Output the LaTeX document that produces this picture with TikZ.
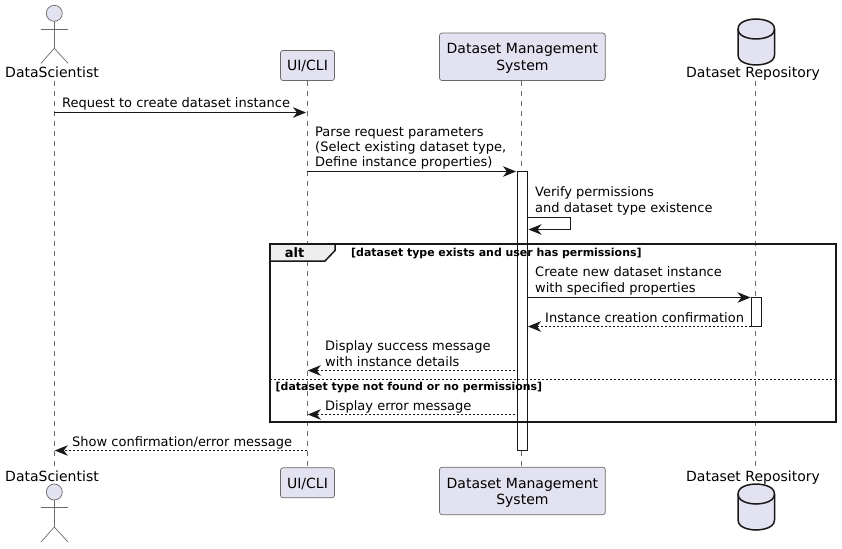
\documentclass[tikz,border=0pt]{standalone}
\usepackage{fontspec}
\setmainfont{DejaVu Sans}
\usetikzlibrary{arrows.meta}
\definecolor{pfill}{HTML}{E2E2F0}
\definecolor{pline}{HTML}{181818}
\definecolor{thinline}{HTML}{6A6A6A}
\definecolor{tabfill}{HTML}{EEEEEE}
\newcommand{\lowertext}[2]{\raisebox{-#1}[\height][\depth]{#2}}
\tikzset{
  partbox/.style={draw=thinline,line width=0.7pt,fill=pfill,rounded corners=2.5pt,inner sep=0pt,minimum height=#1,align=center,font=\fontsize{14}{16.4}\selectfont},
  partlabel/.style={inner sep=0pt,anchor=base,font=\fontsize{14}{16.4}\selectfont},
  lifeline/.style={draw=thinline,line width=0.6pt,dash pattern=on 5pt off 5pt},
  activebar/.style={draw=pline,line width=1pt,fill=white},
  msg/.style={draw=pline,line width=1pt,-{Stealth[length=13pt,width=10.5pt,inset=4pt]}},
  retmsg/.style={msg,dash pattern=on 2pt off 2pt},
  msglabel/.style={inner sep=0pt,anchor=base west,align=left,font=\fontsize{13}{15.1}\selectfont},
  guard/.style={inner sep=0pt,anchor=base west,font=\bfseries\fontsize{10.95}{13}\selectfont},
  actorline/.style={draw=thinline,line width=0.7pt},
  dbshape/.style={draw=pline,line width=1.5pt,fill=pfill},
  framebox/.style={draw=pline,line width=1.5pt},
}
\begin{document}
\begin{tikzpicture}[x=1pt,y=-1pt]
\useasboundingbox (0,0) rectangle (842,548);
% participants
\node[partbox=30pt,minimum width=54pt] (uit) at (307.5,65.5) {UI/CLI};
\node[partbox=30pt,minimum width=54pt] (uib) at (307.5,482.8) {\lowertext{0.7pt}{UI/CLI}};
\node[partbox=47.5pt,minimum width=165.8pt] (dmt) at (522.4,56.8) {\lowertext{1.5pt}{Dataset Management}\\\lowertext{1.5pt}{System}};
\node[partbox=47.5pt,minimum width=165.8pt] (dmb) at (522.4,490.9) {\lowertext{2pt}{Dataset Management}\\\lowertext{2pt}{System}};
\node[partlabel] (dst) at (52,78) {DataScientist};
\node[partlabel] (dsb) at (52,481) {DataScientist};
\node[partlabel] (rpt) at (753,78) {Dataset Repository};
\node[partlabel] (rpb) at (753,481) {Dataset Repository};
% lifeline ends
\coordinate (l1t) at (54.3,81); \coordinate (l1b) at (54.3,467);
\coordinate (l2t) at (307.3,81); \coordinate (l2b) at (307.3,467);
\coordinate (l3t) at (521.3,81); \coordinate (l3b) at (521.3,467);
\coordinate (l4t) at (755.3,81); \coordinate (l4b) at (755.3,467);
\draw[lifeline] (l1t) -- (l1b);
\draw[lifeline] (l2t) -- (l2b);
\draw[lifeline] (l3t) -- (l3b);
\draw[lifeline] (l4t) -- (l4b);
% actors
\foreach \dy in {0,1}{
  \pgfmathsetmacro{\oy}{\dy*478.7}
  \begin{scope}[yshift=-\oy pt]
    \draw[actorline,fill=pfill] (54.3,13.3) circle (8pt);
    \draw[actorline] (54.3,21.3) -- (54.3,48.3);
    \draw[actorline] (41,29) -- (68,29);
    \draw[actorline] (41,63.3) -- (54.3,48.3) -- (68,63.3);
  \end{scope}
}
% databases
\foreach \dy in {0,1}{
  \pgfmathsetmacro{\oy}{\dy*465}
  \begin{scope}[yshift=-\oy pt]
    \draw[dbshape] (738,29) .. controls (738,19) and (756,19) .. (756,19)
      .. controls (756,19) and (774.5,19) .. (774.5,29) -- (774.5,55)
      .. controls (774.5,65) and (756,65) .. (756,65)
      .. controls (756,65) and (738,65) .. (738,55) -- cycle;
    \draw[dbshape,fill=none] (738,29) .. controls (738,39) and (756,39) .. (756,39)
      .. controls (756,39) and (774.5,39) .. (774.5,29);
  \end{scope}
}
% activations
\node[activebar,inner sep=0pt,minimum width=10.5pt,minimum height=279pt] (bar1) at (522.5,311) {};
\node[activebar,inner sep=0pt,minimum width=10.5pt,minimum height=29pt] (bar2) at (756.5,312) {};
% message ends
\coordinate (a1) at (54.3,112.5); \coordinate (b1) at (306,112.5);
\coordinate (a2) at (307.3,171.5); \coordinate (b2) at (516,171.5);
\coordinate (a3) at (528,217.5); \coordinate (c3a) at (570,217.5); \coordinate (c3b) at (570,229.5); \coordinate (b3) at (528.5,229.5);
\coordinate (a4) at (528,297.5); \coordinate (b4) at (750.5,297.5);
\coordinate (a5) at (751,326.5); \coordinate (b5) at (528,326.5);
\coordinate (a6) at (515,370.5); \coordinate (b6) at (307.8,370.5);
\coordinate (a7) at (515,414.5); \coordinate (b7) at (307.8,414.5);
\coordinate (a8) at (307.3,450.5); \coordinate (b8) at (54.8,450.5);
\draw[msg] (a1) -- (b1);
\draw[msg] (a2) -- (b2);
\draw[msg] (a3) -- (c3a) -- (c3b) -- (b3);
\draw[msg] (a4) -- (b4);
\draw[retmsg] (a5) -- (b5);
\draw[retmsg] (a6) -- (b6);
\draw[retmsg] (a7) -- (b7);
\draw[retmsg] (a8) -- (b8);
% message labels
\node[msglabel] (t1) at (62,107.5) {Request to create dataset instance};
\node[msglabel] (t2) at (315,167) {Parse request parameters\\(Select existing dataset type,\\Define instance properties)};
\node[msglabel] (t3) at (535,212) {Verify permissions\\and dataset type existence};
\node[msglabel] (t4) at (535,292) {Create new dataset instance\\with specified properties};
\node[msglabel] (t5) at (545,322) {Instance creation confirmation};
\node[msglabel] (t6) at (325,366) {Display success message\\with instance details};
\node[msglabel] (t7) at (325,410) {Display error message};
\node[msglabel] (t8) at (72,446) {Show confirmation/error message};
% alt frame
\draw[framebox,fill=tabfill] (270,244) -- (335,244) -- (335,250.5) -- (325,261) -- (270,261) -- cycle;
\draw[framebox] (270,244) rectangle (836,422);
\draw[pline,line width=1pt,dash pattern=on 2pt off 2pt] (270,379) -- (836,379);
\node[inner sep=0pt,anchor=base,font=\bfseries\fontsize{13}{15}\selectfont] (alt) at (294.5,257.5) {alt};
\node[guard] (g1) at (351,256) {[dataset type exists and user has permissions]};
\node[guard] (g2) at (275.5,390.7) {[dataset type not found or no permissions]};
\end{tikzpicture}
\end{document}
